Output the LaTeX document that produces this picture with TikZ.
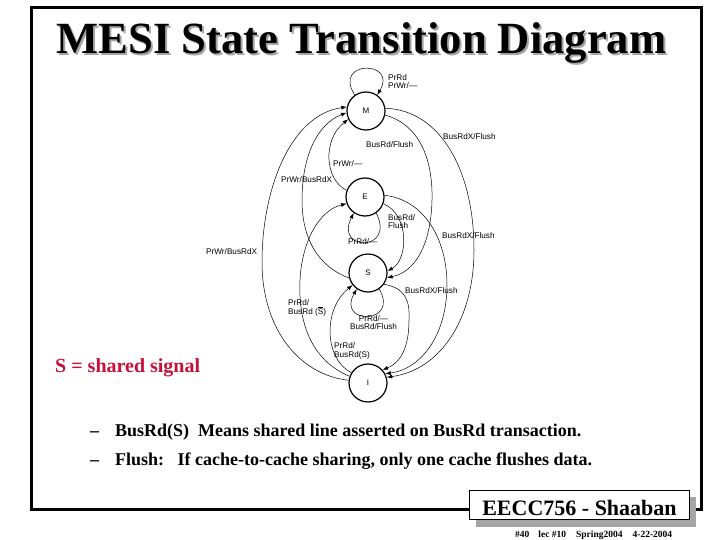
\documentclass[tikz,border=0pt]{standalone}
\usepackage{fontspec}
\setmainfont{Liberation Serif}
\newfontfamily\lsans{Liberation Sans}
\usetikzlibrary{arrows.meta}
\definecolor{crim}{RGB}{200,16,60}
\definecolor{shadowgray}{RGB}{165,165,165}
\begin{document}
\begin{tikzpicture}[x=1pt,y=-1pt,
  state/.style={circle, draw, line width=1.2pt, minimum size=38pt, inner sep=0pt,
                font=\lsans\fontsize{8}{9}\selectfont},
  tr/.style={line width=0.5pt, -{Latex[length=5.5pt,width=4pt]}},
  lbl/.style={font=\lsans\fontsize{8.2}{8.8}\selectfont, inner sep=0pt, anchor=west, align=left},
  clbl/.style={font=\lsans\fontsize{8.2}{8.8}\selectfont, inner sep=0pt, align=center},
  titlefont/.style={font=\fontsize{44.6}{50}\selectfont\bfseries, inner sep=0pt, anchor=base},
  bodytext/.style={font=\fontsize{18}{20}\selectfont\bfseries, inner sep=0pt, anchor=base west},
  frame/.style={line width=3pt}
]
\useasboundingbox (0,0) rectangle (720,540);

% outer frame
\draw[frame] (469.5,509.5) -- (31.5,509.5) -- (31.5,7.5) -- (701.5,7.5) -- (701.5,509.5) -- (689.5,509.5);

% title
\node[titlefont, text=shadowgray] (titleshadow) at (363.5,56) {MESI State Transition Diagram};
\node[titlefont] (title) at (361.5,54) {MESI State Transition Diagram};

% states
\node[state] (M) at (366,111) {M};
\node[state] (E) at (365,197) {E};
\node[state] (S) at (368,273) {S};
\node[state] (I) at (368,383) {I};

% self loops
\draw[tr] (M.125) .. controls (332,60) and (398,60) .. (M.55);
\draw[tr] (E.-55) .. controls (396,252) and (334,252) .. (E.-125);
\draw[tr] (S.-55) .. controls (400,325) and (336,325) .. (S.-125);

% left side transitions
\draw[tr] (I.172) .. controls (300,375) and (262,330) .. (262,262) .. controls (262,190) and (290,115) .. (M.168);
\draw[tr] (S.195) .. controls (315,265) and (302,235) .. (302,200) .. controls (302,160) and (315,125) .. (M.185);
\draw[tr] (E.160) .. controls (325,180) and (322,140) .. (M.205);
\draw[tr] (I.160) .. controls (310,360) and (298,320) .. (300,280) .. controls (302,240) and (320,210) .. (E.200);
\draw[tr] (I.148) .. controls (325,360) and (322,310) .. (S.218);

% right side transitions
\draw[tr] (M.8) .. controls (440,110) and (474,170) .. (474,250) .. controls (474,320) and (440,370) .. (I.17);
\draw[tr] (M.-12) .. controls (420,125) and (433,160) .. (432,200) .. controls (431,245) and (415,272) .. (S.-14);
\draw[tr] (E.-20) .. controls (410,215) and (408,260) .. (S.6);
\draw[tr] (E.5) .. controls (425,200) and (447,240) .. (447,285) .. controls (447,330) and (425,368) .. (I.28);
\draw[tr] (S.-35) .. controls (405,288) and (410,300) .. (409,320) .. controls (409,345) and (402,362) .. (I.42);

% transition labels
\node[lbl] (lMloop) at (388,81.5) {PrRd\\PrWr/—};
\node[lbl] (lEM) at (333,164) {PrWr/—};
\node[lbl] (lSM) at (281,180) {PrWr/BusRdX};
\node[lbl] (lMS) at (366,145) {BusRd/Flush};
\node[lbl] (lMI) at (443,137) {BusRdX/Flush};
\node[lbl] (lES) at (388,221.5) {BusRd/\\Flush};
\node[lbl] (lEI) at (442,236) {BusRdX/Flush};
\node[lbl] (lEloop) at (348,242) {PrRd/—};
\node[lbl] (lIM) at (206,252) {PrWr/BusRdX};
\node[lbl] (lSI) at (405,291) {BusRdX/Flush};
\node[lbl] (lIE) at (288,308) {PrRd/\\BusRd (\(\overline{\mbox{S}}\))};
\node[clbl] (lSloop) at (373.5,322.5) {PrRd/—\\BusRd/Flush};
\node[lbl] (lIS) at (334,351) {PrRd/\\BusRd(S)};

% shared signal
\node[font=\fontsize{20}{22}\selectfont\bfseries, inner sep=0pt, anchor=base west, text=crim] (sig) at (55,372) {S = shared signal};

% bullets
\node[bodytext] (d1) at (90,436) {–};
\node[bodytext] (b1) at (115,436) {BusRd(S)\ \ Means shared line asserted on BusRd transaction.};
\node[bodytext] (d2) at (90,465) {–};
\node[bodytext] (b2) at (115,465) {Flush:\ \ \ If cache-to-cache sharing, only one cache flushes data.};

% footer box
\fill[shadowgray] (475.5,496.5) rectangle (695.5,526.5);
\node[draw, fill=white, line width=1.5pt, minimum width=220pt, minimum height=29pt, inner sep=0pt] (box) at (579.5,505) {};
\node[font=\fontsize{22}{24}\selectfont\bfseries, inner sep=0pt, anchor=base] (boxtext) at (579.5,515.5) {EECC756 - Shaaban};
\node[font=\fontsize{9.5}{10}\selectfont\bfseries, inner sep=0pt, anchor=base west] (foot) at (515,537) {\#40\hspace{9pt}lec \#10\hspace{10pt}Spring2004\hspace{10pt}4-22-2004};
\end{tikzpicture}
\end{document}
